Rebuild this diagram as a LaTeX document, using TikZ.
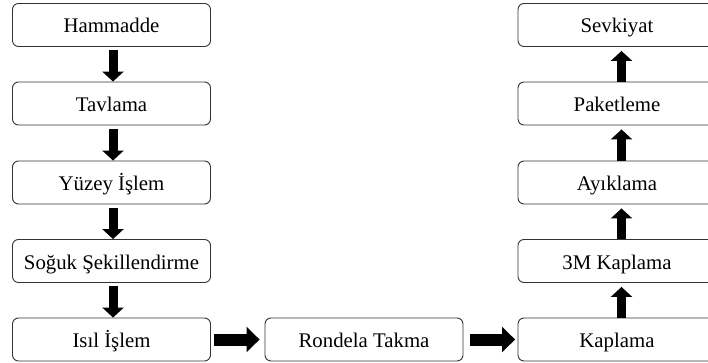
\documentclass[tikz,border=0pt]{standalone}
\usepackage{fontspec}
\setmainfont{Liberation Serif}
\usetikzlibrary{arrows.meta}
\begin{document}
\begin{tikzpicture}[x=1pt,y=-1pt,
  box/.style={draw=black!80, line width=0.9pt, rounded corners=6pt, fill=white,
    minimum width=198pt, minimum height=43pt, inner sep=0pt,
    text height=17pt, text depth=1pt, font=\fontsize{20.8}{24}\selectfont},
  varr/.style={line width=9pt, -{Triangle[width=21pt,length=10pt]}},
  harr/.style={line width=12pt, -{Triangle[width=25pt,length=13pt]}}]
\useasboundingbox (0,0) rectangle (708,363);
\begin{scope}
\clip (0,0) rectangle (708,363);
\node[box] (ham) at (111.5,25) {Hammadde};
\node[box] (tav) at (111.5,103.5) {Tavlama};
\node[box] (yuz) at (111.5,182.5) {Yüzey İşlem};
\node[box] (sog) at (111.5,261) {Soğuk Şekillendirme};
\node[box] (isi) at (111.5,339.5) {Isıl İşlem};
\node[box] (ron) at (364,339.5) {Rondela Takma};
\node[box] (kap) at (617,339.5) {Kaplama};
\node[box] (tmk) at (617,261) {3M Kaplama};
\node[box] (ayi) at (617,182.5) {Ayıklama};
\node[box] (pak) at (617,103.5) {Paketleme};
\node[box] (sev) at (617,25) {Sevkiyat};
\foreach \a/\b in {ham/tav,tav/yuz,yuz/sog,sog/isi}
  \draw[varr, shorten <=3.5pt] ([xshift=1.5pt]\a.south) -- ([xshift=1.5pt]\b.north);
\foreach \a/\b in {kap/tmk,tmk/ayi,ayi/pak,pak/sev}
  \draw[varr, shorten >=4pt] ([xshift=4.5pt]\a.north) -- ([xshift=4.5pt]\b.south);
\draw[harr, shorten <=3pt, shorten >=5pt] (isi.east) -- (ron.west);
\draw[harr, shorten <=7pt, shorten >=2.5pt] (ron.east) -- (kap.west);
\end{scope}
\end{tikzpicture}
\end{document}
